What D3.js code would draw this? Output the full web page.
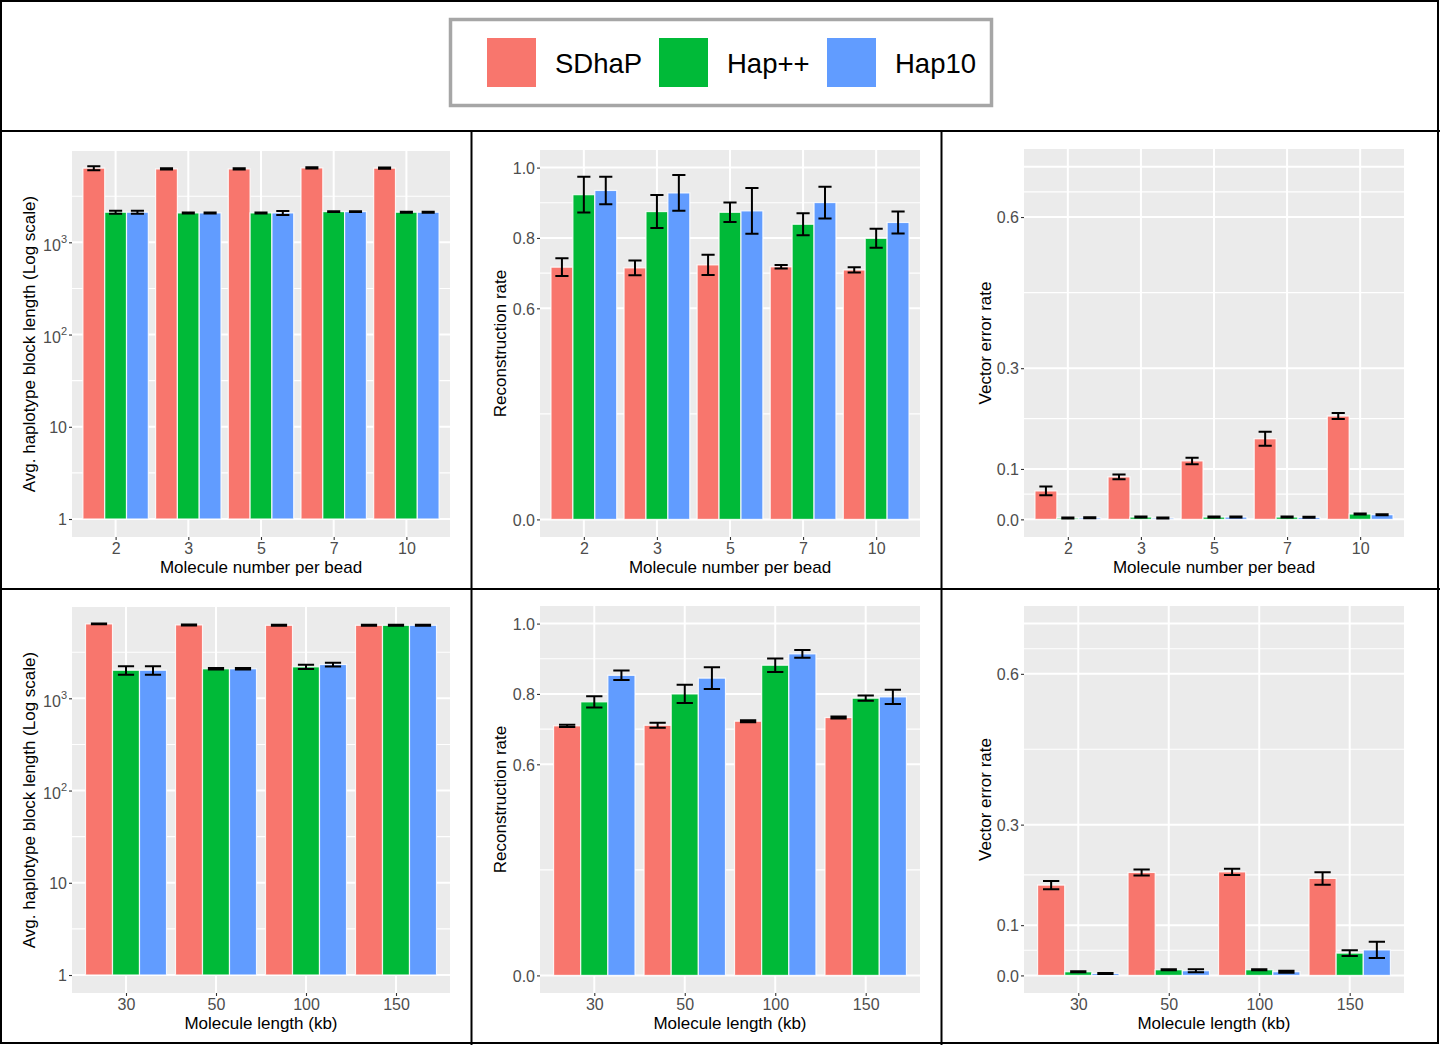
<!DOCTYPE html>
<html><head><meta charset="utf-8">
<script src="https://cdn.jsdelivr.net/npm/d3@7"></script>
<style>
body{margin:0;background:#fff}
svg{display:block}
text{font-family:"Liberation Sans",Arial,Helvetica,sans-serif}
</style>
</head><body>
<svg id="chart" width="1440" height="1045"></svg>
<script>
// ---------- data ----------
const seriesNames = ["SDhaP", "Hap++", "Hap10"];
const seriesColors = ["#F8766D", "#00BA38", "#619CFF"];

const beadCategories = ["2", "3", "5", "7", "10"];
const lengthCategories = ["30", "50", "100", "150"];

const logTickValues = [1, 10, 100, 1000];
const reconTickValues = [0, 0.6, 0.8, 1.0];
const vecTickValues = [0, 0.1, 0.3, 0.6];

// Avg. haplotype block length vs molecule number per bead  [SDhaP, Hap++, Hap10]
const beadBlockMean = [
  [6370, 6250, 6250, 6410, 6370],
  [2120, 2083, 2083, 2153, 2120],
  [2120, 2083, 2083, 2153, 2120]
];
const beadBlockSd = [
  [320, 110, 110, 110, 110],
  [80, 25, 25, 25, 25],
  [80, 25, 105, 25, 25]
];
// Reconstruction rate vs molecule number per bead
const beadReconMean = [
  [0.717, 0.715, 0.7235, 0.718, 0.709],
  [0.923, 0.875, 0.873, 0.839, 0.799],
  [0.935, 0.928, 0.877, 0.9006, 0.844]
];
const beadReconSd = [
  [0.025, 0.021, 0.029, 0.005, 0.0075],
  [0.051, 0.047, 0.028, 0.031, 0.027],
  [0.039, 0.051, 0.065, 0.045, 0.031]
];
// Vector error rate vs molecule number per bead
const beadVecMean = [
  [0.0564, 0.0843, 0.116, 0.160, 0.205],
  [0.0027, 0.0046, 0.0046, 0.0046, 0.0106],
  [0.003, 0.0027, 0.0046, 0.004, 0.0093]
];
const beadVecSd = [
  [0.0086, 0.0046, 0.0064, 0.014, 0.006],
  [0.001, 0.001, 0.001, 0.001, 0.001],
  [0.001, 0.001, 0.001, 0.001, 0.001]
];
// Avg. haplotype block length vs molecule length
const lengthBlockMean = [
  [6410, 6250, 6190, 6190],
  [2015, 2090, 2195, 6190],
  [2015, 2090, 2324, 6190]
];
const lengthBlockSd = [
  [60, 80, 80, 80],
  [215, 40, 110, 80],
  [215, 40, 110, 80]
];
// Reconstruction rate vs molecule length
const lengthReconMean = [
  [0.7094, 0.711, 0.7226, 0.733],
  [0.7776, 0.800, 0.8817, 0.788],
  [0.853, 0.845, 0.914, 0.7917]
];
const lengthReconSd = [
  [0.003, 0.007, 0.003, 0.003],
  [0.016, 0.026, 0.019, 0.0075],
  [0.0135, 0.031, 0.011, 0.020]
];
// Vector error rate vs molecule length
const lengthVecMean = [
  [0.1797, 0.2048, 0.206, 0.193],
  [0.0073, 0.0113, 0.0113, 0.0444],
  [0.004, 0.0093, 0.0073, 0.0507]
];
const lengthVecSd = [
  [0.0083, 0.006, 0.006, 0.0125],
  [0.001, 0.001, 0.001, 0.0056],
  [0.001, 0.003, 0.002, 0.0163]
];

// ---------- layout ----------
const svg = d3.select("#chart");
const FONT = '"Liberation Sans",Arial,Helvetica,sans-serif';

const logDomain = [Math.pow(10, -0.195), Math.pow(10, 3.99)];
const logMinor = [0.5, 1.5, 2.5, 3.5].map(e => Math.pow(10, e));
const reconDomain = [-0.05, 1.05];
const reconMinor = [0.3, 0.7, 0.9];
const vecDomain = [-0.035, 0.735];
const vecMajorExtra = [0.7];
const vecMinor = [0.05, 0.2, 0.45, 0.65];

const panels = [
  {x0: 72, x1: 450, y0: 151, y1: 537, cats: beadCategories, mean: beadBlockMean, sd: beadBlockSd,
   type: "log", domain: logDomain, ticks: logTickValues, minor: logMinor, extra: [],
   ytitle: "Avg. haplotype block length (Log scale)", xtitle: "Molecule number per bead", ytx: 35},
  {x0: 540, x1: 920, y0: 150, y1: 537, cats: beadCategories, mean: beadReconMean, sd: beadReconSd,
   type: "lin", domain: reconDomain, ticks: reconTickValues, minor: reconMinor, extra: [],
   ytitle: "Reconstruction rate", xtitle: "Molecule number per bead", ytx: 506},
  {x0: 1024, x1: 1404, y0: 149, y1: 537, cats: beadCategories, mean: beadVecMean, sd: beadVecSd,
   type: "lin", domain: vecDomain, ticks: vecTickValues, minor: vecMinor, extra: vecMajorExtra,
   ytitle: "Vector error rate", xtitle: "Molecule number per bead", ytx: 991},
  {x0: 72, x1: 450, y0: 607, y1: 993, cats: lengthCategories, mean: lengthBlockMean, sd: lengthBlockSd,
   type: "log", domain: logDomain, ticks: logTickValues, minor: logMinor, extra: [],
   ytitle: "Avg. haplotype block length (Log scale)", xtitle: "Molecule length (kb)", ytx: 35},
  {x0: 540, x1: 920, y0: 606, y1: 993, cats: lengthCategories, mean: lengthReconMean, sd: lengthReconSd,
   type: "lin", domain: reconDomain, ticks: reconTickValues, minor: reconMinor, extra: [],
   ytitle: "Reconstruction rate", xtitle: "Molecule length (kb)", ytx: 506},
  {x0: 1024, x1: 1404, y0: 606, y1: 993, cats: lengthCategories, mean: lengthVecMean, sd: lengthVecSd,
   type: "lin", domain: vecDomain, ticks: vecTickValues, minor: vecMinor, extra: vecMajorExtra,
   ytitle: "Vector error rate", xtitle: "Molecule length (kb)", ytx: 991}
];

const supDigits = {"1": "", "10": "", "100": "2", "1000": "3"};

function drawPanel(p) {
  const g = svg.append("g");
  const x = d3.scalePoint().domain(p.cats).range([p.x0, p.x1]).padding(0.6);
  const step = x.step();
  const inner = d3.scaleBand().domain(d3.range(seriesNames.length)).range([-0.45 * step, 0.45 * step]);
  const y = (p.type === "log" ? d3.scaleLog() : d3.scaleLinear()).domain(p.domain).range([p.y1, p.y0]);
  const base = p.type === "log" ? 1 : 0;

  // background
  g.append("rect").attr("x", p.x0).attr("y", p.y0).attr("width", p.x1 - p.x0).attr("height", p.y1 - p.y0)
    .attr("fill", "#EBEBEB");
  // minor grid
  g.selectAll(".gmin").data(p.minor).join("line")
    .attr("x1", p.x0).attr("x2", p.x1).attr("y1", d => y(d)).attr("y2", d => y(d))
    .attr("stroke", "#fff").attr("stroke-width", 1.1);
  // major grid
  g.selectAll(".gmaj").data(p.ticks.concat(p.extra)).join("line")
    .attr("x1", p.x0).attr("x2", p.x1).attr("y1", d => y(d)).attr("y2", d => y(d))
    .attr("stroke", "#fff").attr("stroke-width", 2);
  g.selectAll(".gx").data(p.cats).join("line")
    .attr("x1", d => x(d)).attr("x2", d => x(d)).attr("y1", p.y0).attr("y2", p.y1)
    .attr("stroke", "#fff").attr("stroke-width", 2);

  // bars
  const barData = [];
  p.mean.forEach((arr, si) => arr.forEach((v, ci) => barData.push({si, cat: p.cats[ci], v, sd: p.sd[si][ci]})));
  g.selectAll(".bar").data(barData).join("rect")
    .attr("x", d => x(d.cat) + inner(d.si))
    .attr("width", inner.bandwidth())
    .attr("y", d => y(d.v))
    .attr("height", d => y(base) - y(d.v))
    .attr("fill", d => seriesColors[d.si])
    .attr("stroke", "#fff").attr("stroke-opacity", 0.85).attr("stroke-width", 1.2);

  // error bars
  const ww = 0.09 * step;
  const eg = g.selectAll(".err").data(barData).join("path")
    .attr("d", d => {
      const cx = x(d.cat) + inner(d.si) + inner.bandwidth() / 2;
      const yl = y(d.v - d.sd), yh = y(d.v + d.sd);
      return `M${cx - ww},${yh}H${cx + ww}M${cx},${yh}V${yl}M${cx - ww},${yl}H${cx + ww}`;
    })
    .attr("fill", "none").attr("stroke", "#000").attr("stroke-width", 2);

  // y axis
  const ya = g.append("g").attr("transform", `translate(${p.x0},0)`)
    .call(d3.axisLeft(y).tickValues(p.ticks).tickSize(3).tickSizeOuter(0).tickPadding(2)
      .tickFormat(d => p.type === "log" ? (d >= 100 ? "10" : String(d)) : d3.format(".1f")(d)));
  ya.select(".domain").remove();
  ya.selectAll(".tick line").attr("stroke", "#333").attr("stroke-width", 1.1);
  ya.selectAll(".tick text").attr("fill", "#4D4D4D").style("font-size", "16px").style("font-family", FONT)
    .attr("dy", "0.36em");
  if (p.type === "log") {
    ya.selectAll(".tick text").each(function(d) {
      const s = supDigits[String(d)];
      if (s) {
        const t = d3.select(this);
        t.attr("dy", null).attr("y", 7.7);
        t.append("tspan").attr("dy", -8).style("font-size", "11px").text(s);
      }
    });
  }

  // x axis
  const xa = g.append("g").attr("transform", `translate(0,${p.y1})`)
    .call(d3.axisBottom(x).tickSize(3).tickSizeOuter(0).tickPadding(2.6));
  xa.select(".domain").remove();
  xa.selectAll(".tick line").attr("stroke", "#333").attr("stroke-width", 1.1);
  xa.selectAll(".tick text").attr("fill", "#4D4D4D").style("font-size", "16px").style("font-family", FONT);

  // titles
  g.append("text").attr("x", (p.x0 + p.x1) / 2).attr("y", p.y1 + 35.5).attr("text-anchor", "middle")
    .style("font-size", "17px").attr("fill", "#000").text(p.xtitle);
  g.append("text").attr("transform", `translate(${p.ytx},${(p.y0 + p.y1) / 2}) rotate(-90)`)
    .attr("text-anchor", "middle").style("font-size", "17px").attr("fill", "#000").text(p.ytitle);
}

panels.forEach(drawPanel);

// ---------- frame ----------
const frame = svg.append("g").attr("stroke", "#000").attr("stroke-width", 2).attr("fill", "none");
frame.append("rect").attr("x", 1).attr("y", 1).attr("width", 1437).attr("height", 1042);
frame.append("line").attr("x1", 0).attr("x2", 1440).attr("y1", 131).attr("y2", 131);
frame.append("line").attr("x1", 0).attr("x2", 1440).attr("y1", 589).attr("y2", 589);
frame.append("line").attr("x1", 471.5).attr("x2", 471.5).attr("y1", 131).attr("y2", 1045);
frame.append("line").attr("x1", 941.5).attr("x2", 941.5).attr("y1", 131).attr("y2", 1045);

// ---------- legend ----------
const lg = svg.append("g");
lg.append("rect").attr("x", 450.5).attr("y", 19.5).attr("width", 541).attr("height", 86)
  .attr("fill", "#fff").attr("stroke", "#A6A6A6").attr("stroke-width", 3.5);
const keyX = [487, 659, 827];
const labX = [555, 727, 895];
lg.selectAll(".key").data(seriesNames).join("rect")
  .attr("x", (d, i) => keyX[i]).attr("y", 38).attr("width", 49).attr("height", 49)
  .attr("fill", (d, i) => seriesColors[i]);
lg.selectAll(".lab").data(seriesNames).join("text")
  .attr("x", (d, i) => labX[i]).attr("y", 73)
  .style("font-size", "27.5px").attr("fill", "#000").text(d => d);
</script>
</body></html>
